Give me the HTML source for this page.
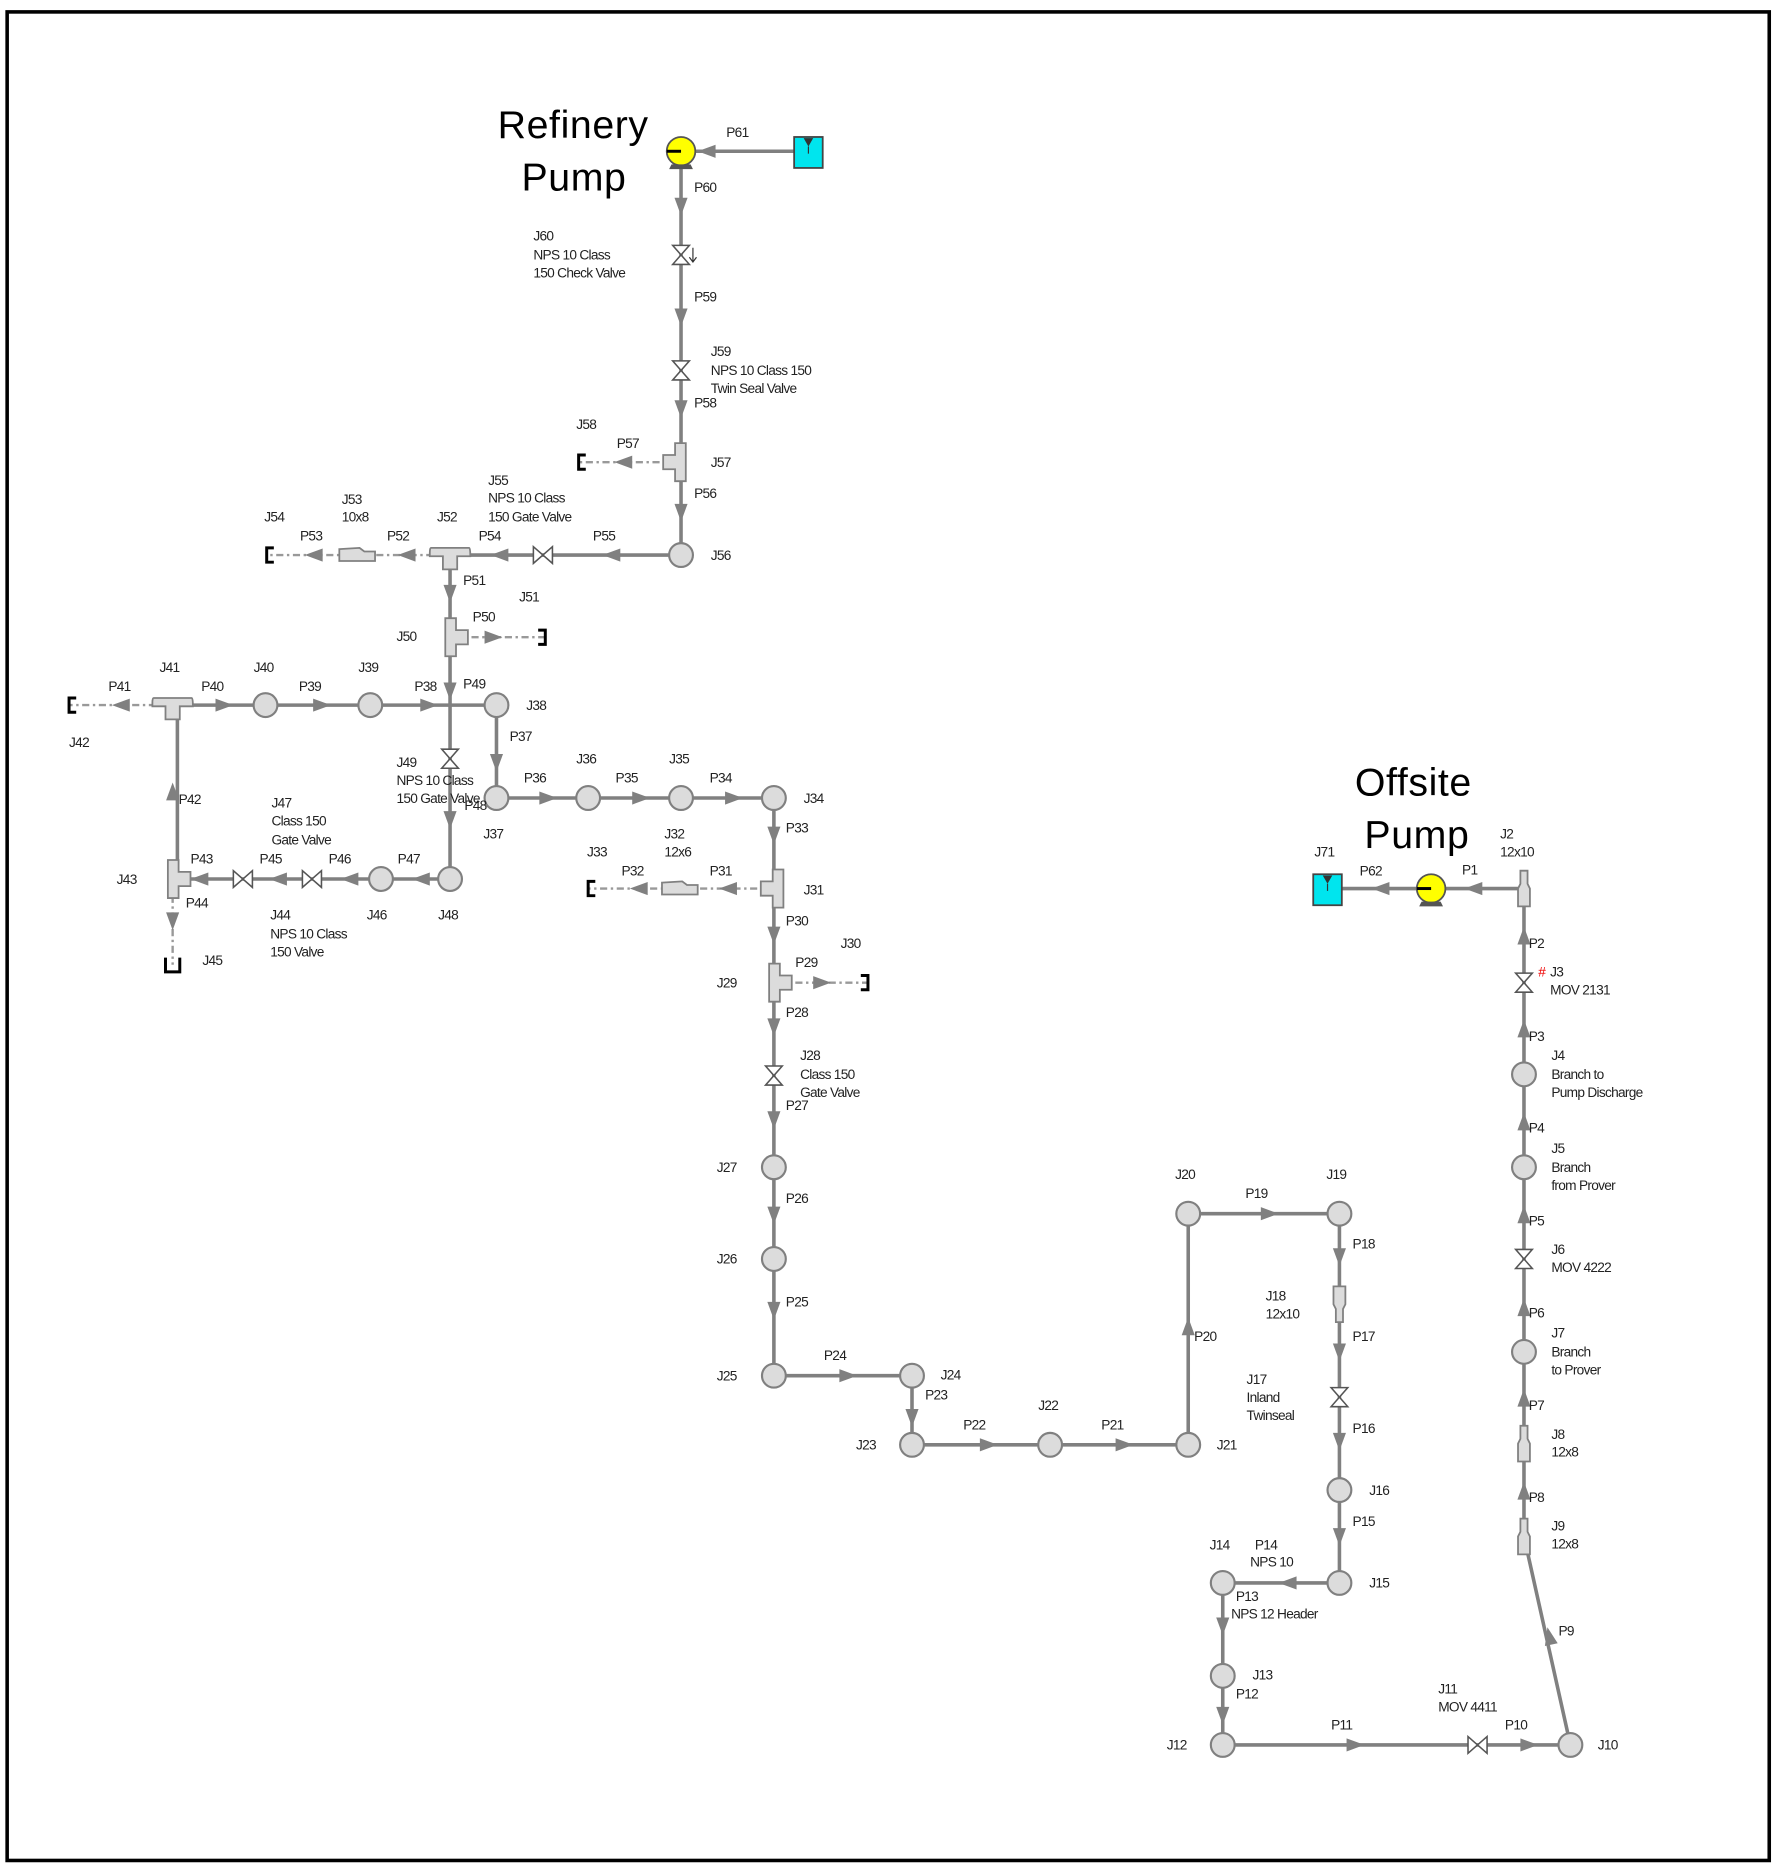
<!DOCTYPE html>
<html><head><meta charset="utf-8"><style>
html,body{margin:0;padding:0;background:#fff}
svg{display:block}
text{font-family:"Liberation Sans",sans-serif;font-size:11.5px;letter-spacing:-0.6px;fill:#222}
.big{font-size:33px;letter-spacing:0.5px;fill:#000}
.p{stroke:#808080;stroke-width:3;fill:none}
.d{stroke:#999;stroke-width:2;fill:none;stroke-dasharray:6 3 2 3}
.j{fill:#dcdcdc;stroke:#808080;stroke-width:1.8}
</style></head><body>
<svg width="1774" height="1870" viewBox="0 0 1490 1570" preserveAspectRatio="none" xmlns="http://www.w3.org/2000/svg">
<defs>
<path id="ar" d="M6,0 L-9,-5.5 L-9,5.5 Z" fill="#808080"/>
<path id="va" d="M-7,-8 L7,-8 L-7,8 L7,8 Z" fill="#fff" stroke="#555" stroke-width="1.3"/>
<path id="vh" d="M-8,-7 L-8,7 L8,-7 L8,7 Z" fill="#fff" stroke="#555" stroke-width="1.3"/>
<path id="teeH" d="M-16,-6 L16,-6 Q17,-6 17,0 L17,1 L6,1 L6,12 L-6,12 L-6,1 L-17,1 L-17,-2 Q-17,-6 -16,-6 Z" fill="#dcdcdc" stroke="#808080" stroke-width="1.5"/>
<path id="teeV" d="M-8,-16 L1,-16 L1,-6 L11,-6 L11,6 L1,6 L1,16 L-8,16 Z" fill="#dcdcdc" stroke="#808080" stroke-width="1.5"/>
<path id="redH" d="M-15,-5 L2,-6 L6,-3 L15,-3 L15,5 L-15,5 Z" fill="#dcdcdc" stroke="#808080" stroke-width="1.5"/>
<path id="redV" d="M-5,-15 L5,-15 L5,0 L3,4 L3,15 L-3,15 L-3,4 L-5,0 Z" fill="#dcdcdc" stroke="#808080" stroke-width="1.5"/>
<g id="pump"><circle r="12" fill="#ffff00" stroke="#555" stroke-width="1.5"/><path d="M-8,11 L8,11 L10,15 L-10,15 Z" fill="#555"/><path d="M0,0 L-12,0" stroke="#000" stroke-width="2.5"/></g>
<g id="tank"><rect x="-12" y="-12" width="24" height="26" fill="#00e5ee" stroke="#444" stroke-width="1.5"/><path d="M-4,-11 L4,-11 L0,-4 Z" fill="#333"/><path d="M0,-4 L0,2" stroke="#333"/></g>
<path id="deadL" d="M6,-6 L0,-6 L0,6 L6,6" stroke="#000" stroke-width="2.5" fill="none"/>
</defs>
<rect x="6" y="10" width="1480" height="1552" fill="none" stroke="#000" stroke-width="3"/>

<path class="p" d="M679,127 H572 V466 H378 V738 H149 V592 H417 V670 H650 V1155 H766 V1213 H998 V1019 H1125 V1329 H1027 V1465 H1319 L1280,1290 V746 H1115"/>
<path class="d" d="M568,388 H486 M378,466 H224 M382,535 H458 M145,592 H58 M650,746 H494 M654,825 H729 M145,738 V810"/>

<use href="#ar" transform="translate(592,127) rotate(180)"/>
<use href="#ar" transform="translate(572,175) rotate(90)"/>
<use href="#ar" transform="translate(572,268) rotate(90)"/>
<use href="#ar" transform="translate(572,345) rotate(90)"/>
<use href="#ar" transform="translate(572,432) rotate(90)"/>
<use href="#ar" transform="translate(512,466) rotate(180)"/>
<use href="#ar" transform="translate(418,466) rotate(180)"/>
<use href="#ar" transform="translate(340,466) rotate(180)"/>
<use href="#ar" transform="translate(262,466) rotate(180)"/>
<use href="#ar" transform="translate(522,388) rotate(180)"/>
<use href="#ar" transform="translate(378,500) rotate(90)"/>
<use href="#ar" transform="translate(416,535)"/>
<use href="#ar" transform="translate(378,582) rotate(90)"/>
<use href="#ar" transform="translate(378,690) rotate(90)"/>
<use href="#ar" transform="translate(362,592)"/>
<use href="#ar" transform="translate(272,592)"/>
<use href="#ar" transform="translate(190,592)"/>
<use href="#ar" transform="translate(100,592) rotate(180)"/>
<use href="#ar" transform="translate(417,642) rotate(90)"/>
<use href="#ar" transform="translate(462,670)"/>
<use href="#ar" transform="translate(540,670)"/>
<use href="#ar" transform="translate(618,670)"/>
<use href="#ar" transform="translate(650,703) rotate(90)"/>
<use href="#ar" transform="translate(610,746) rotate(180)"/>
<use href="#ar" transform="translate(535,746) rotate(180)"/>
<use href="#ar" transform="translate(650,787) rotate(90)"/>
<use href="#ar" transform="translate(692,825)"/>
<use href="#ar" transform="translate(650,864) rotate(90)"/>
<use href="#ar" transform="translate(650,942) rotate(90)"/>
<use href="#ar" transform="translate(650,1022) rotate(90)"/>
<use href="#ar" transform="translate(650,1102) rotate(90)"/>
<use href="#ar" transform="translate(714,1155)"/>
<use href="#ar" transform="translate(766,1192) rotate(90)"/>
<use href="#ar" transform="translate(832,1213)"/>
<use href="#ar" transform="translate(946,1213)"/>
<use href="#ar" transform="translate(998,1112) rotate(270)"/>
<use href="#ar" transform="translate(1068,1019)"/>
<use href="#ar" transform="translate(1125,1057) rotate(90)"/>
<use href="#ar" transform="translate(1125,1137) rotate(90)"/>
<use href="#ar" transform="translate(1125,1212) rotate(90)"/>
<use href="#ar" transform="translate(1125,1292) rotate(90)"/>
<use href="#ar" transform="translate(1080,1329) rotate(180)"/>
<use href="#ar" transform="translate(1027,1367) rotate(90)"/>
<use href="#ar" transform="translate(1027,1442) rotate(90)"/>
<use href="#ar" transform="translate(1140,1465)"/>
<use href="#ar" transform="translate(1286,1465)"/>
<use href="#ar" transform="translate(1301,1372) rotate(257.4)"/>
<use href="#ar" transform="translate(1280,1250) rotate(270)"/>
<use href="#ar" transform="translate(1280,1172) rotate(270)"/>
<use href="#ar" transform="translate(1280,1096) rotate(270)"/>
<use href="#ar" transform="translate(1280,1018) rotate(270)"/>
<use href="#ar" transform="translate(1280,940) rotate(270)"/>
<use href="#ar" transform="translate(1280,862) rotate(270)"/>
<use href="#ar" transform="translate(1280,784) rotate(270)"/>
<use href="#ar" transform="translate(1236,746) rotate(180)"/>
<use href="#ar" transform="translate(1158,746) rotate(180)"/>
<use href="#ar" transform="translate(145,663) rotate(270)"/>
<use href="#ar" transform="translate(166,738) rotate(180)"/>
<use href="#ar" transform="translate(145,775) rotate(90)"/>
<use href="#ar" transform="translate(232,738) rotate(180)"/>
<use href="#ar" transform="translate(292,738) rotate(180)"/>
<use href="#ar" transform="translate(352,738) rotate(180)"/>

<g class="j">
<circle cx="572" cy="466" r="10"/><circle cx="223" cy="592" r="10"/><circle cx="311" cy="592" r="10"/>
<circle cx="417" cy="592" r="10"/><circle cx="417" cy="670" r="10"/><circle cx="494" cy="670" r="10"/>
<circle cx="572" cy="670" r="10"/><circle cx="650" cy="670" r="10"/><circle cx="378" cy="738" r="10"/>
<circle cx="320" cy="738" r="10"/><circle cx="650" cy="980" r="10"/><circle cx="650" cy="1057" r="10"/>
<circle cx="650" cy="1155" r="10"/><circle cx="766" cy="1155" r="10"/><circle cx="766" cy="1213" r="10"/>
<circle cx="882" cy="1213" r="10"/><circle cx="998" cy="1213" r="10"/><circle cx="998" cy="1019" r="10"/>
<circle cx="1125" cy="1019" r="10"/><circle cx="1125" cy="1251" r="10"/><circle cx="1125" cy="1329" r="10"/>
<circle cx="1027" cy="1329" r="10"/><circle cx="1027" cy="1407" r="10"/><circle cx="1027" cy="1465" r="10"/>
<circle cx="1319" cy="1465" r="10"/><circle cx="1280" cy="902" r="10"/><circle cx="1280" cy="980" r="10"/>
<circle cx="1280" cy="1135" r="10"/>
</g>
<use href="#teeV" transform="translate(568,388) scale(-1,1)"/>
<use href="#teeH" transform="translate(378,466)"/>
<use href="#teeV" transform="translate(382,535)"/>
<use href="#teeH" transform="translate(145,592)"/>
<use href="#teeV" transform="translate(149,738)"/>
<use href="#teeV" transform="translate(650,746) scale(-1,1)"/>
<use href="#teeV" transform="translate(654,825)"/>
<use href="#redH" transform="translate(300,466)"/>
<use href="#redH" transform="translate(571,746)"/>
<use href="#redV" transform="translate(1125,1095)"/>
<use href="#redV" transform="translate(1280,746) scale(1,-1)"/>
<use href="#redV" transform="translate(1280,1212) scale(1,-1)"/>
<use href="#redV" transform="translate(1280,1290) scale(1,-1)"/>
<use href="#va" transform="translate(572,214)"/><path d="M582,208 V220 M579,216 L582,220 L585,216" stroke="#333" fill="none"/>
<use href="#va" transform="translate(572,311)"/>
<use href="#vh" transform="translate(456,466)"/>
<use href="#va" transform="translate(378,637)"/>
<use href="#vh" transform="translate(204,738)"/>
<use href="#vh" transform="translate(262,738)"/>
<use href="#va" transform="translate(650,903)"/>
<use href="#va" transform="translate(1125,1173)"/>
<use href="#vh" transform="translate(1241,1465)"/>
<use href="#va" transform="translate(1280,1057)"/>
<use href="#va" transform="translate(1280,825)"/>
<use href="#deadL" transform="translate(486,388)"/>
<use href="#deadL" transform="translate(224,466)"/>
<use href="#deadL" transform="translate(458,535) scale(-1,1)"/>
<use href="#deadL" transform="translate(58,592)"/>
<use href="#deadL" transform="translate(494,746)"/>
<use href="#deadL" transform="translate(729,825) scale(-1,1)"/>
<path d="M139,804 V816 H151 V804" stroke="#000" stroke-width="2.5" fill="none"/>
<use href="#pump" transform="translate(572,127)"/>
<use href="#tank" transform="translate(679,127)"/>
<use href="#pump" transform="translate(1202,746)"/>
<use href="#tank" transform="translate(1115,746)"/>

<text class="big" x="418" y="116">Refinery</text>
<text class="big" x="438" y="160">Pump</text>
<text class="big" x="1138" y="668">Offsite</text>
<text class="big" x="1146" y="712">Pump</text>

<text x="610" y="115">P61</text>
<text x="583" y="161">P60</text>
<text x="448" y="202">J60</text><text x="448" y="218">NPS 10 Class</text><text x="448" y="233">150 Check Valve</text>
<text x="583" y="253">P59</text>
<text x="597" y="299">J59</text><text x="597" y="315">NPS 10 Class 150</text><text x="597" y="330">Twin Seal Valve</text>
<text x="583" y="342">P58</text>
<text x="484" y="360">J58</text><text x="518" y="376">P57</text><text x="597" y="392">J57</text>
<text x="583" y="418">P56</text>
<text x="410" y="407">J55</text><text x="410" y="422">NPS 10 Class</text><text x="410" y="438">150 Gate Valve</text>
<text x="287" y="423">J53</text><text x="287" y="438">10x8</text>
<text x="222" y="438">J54</text><text x="252" y="454">P53</text><text x="325" y="454">P52</text>
<text x="367" y="438">J52</text><text x="402" y="454">P54</text><text x="498" y="454">P55</text>
<text x="597" y="470">J56</text>
<text x="389" y="491">P51</text><text x="436" y="505">J51</text><text x="397" y="522">P50</text>
<text x="333" y="538">J50</text>
<text x="134" y="564">J41</text><text x="213" y="564">J40</text><text x="301" y="564">J39</text>
<text x="91" y="580">P41</text><text x="169" y="580">P40</text><text x="251" y="580">P39</text>
<text x="348" y="580">P38</text><text x="389" y="578">P49</text><text x="442" y="596">J38</text>
<text x="58" y="627">J42</text>
<text x="428" y="622">P37</text>
<text x="333" y="644">J49</text><text x="333" y="659">NPS 10 Class</text><text x="333" y="674">150 Gate Valve</text>
<text x="390" y="680">P48</text>
<text x="484" y="641">J36</text><text x="562" y="641">J35</text>
<text x="440" y="657">P36</text><text x="517" y="657">P35</text><text x="596" y="657">P34</text>
<text x="675" y="674">J34</text>
<text x="406" y="704">J37</text>
<text x="150" y="675">P42</text>
<text x="228" y="678">J47</text><text x="228" y="693">Class 150</text><text x="228" y="709">Gate Valve</text>
<text x="660" y="699">P33</text>
<text x="558" y="704">J32</text><text x="558" y="719">12x6</text>
<text x="493" y="719">J33</text><text x="522" y="735">P32</text><text x="596" y="735">P31</text>
<text x="160" y="725">P43</text><text x="218" y="725">P45</text><text x="276" y="725">P46</text><text x="334" y="725">P47</text>
<text x="98" y="742">J43</text><text x="675" y="751">J31</text>
<text x="156" y="762">P44</text>
<text x="227" y="772">J44</text><text x="227" y="788">NPS 10 Class</text><text x="227" y="803">150 Valve</text>
<text x="308" y="772">J46</text><text x="368" y="772">J48</text>
<text x="660" y="777">P30</text>
<text x="170" y="810">J45</text>
<text x="706" y="796">J30</text><text x="668" y="812">P29</text>
<text x="602" y="829">J29</text>
<text x="660" y="854">P28</text>
<text x="672" y="890">J28</text><text x="672" y="906">Class 150</text><text x="672" y="921">Gate Valve</text>
<text x="660" y="932">P27</text>
<text x="602" y="984">J27</text><text x="660" y="1010">P26</text>
<text x="602" y="1061">J26</text><text x="660" y="1097">P25</text>
<text x="602" y="1159">J25</text><text x="692" y="1142">P24</text>
<text x="790" y="1158">J24</text><text x="777" y="1175">P23</text>
<text x="719" y="1217">J23</text><text x="809" y="1200">P22</text><text x="872" y="1184">J22</text>
<text x="925" y="1200">P21</text><text x="1022" y="1217">J21</text>
<text x="1003" y="1126">P20</text>
<text x="987" y="990">J20</text><text x="1046" y="1006">P19</text><text x="1114" y="990">J19</text>
<text x="1136" y="1048">P18</text>
<text x="1063" y="1092">J18</text><text x="1063" y="1107">12x10</text>
<text x="1136" y="1126">P17</text>
<text x="1047" y="1162">J17</text><text x="1047" y="1177">Inland</text><text x="1047" y="1192">Twinseal</text>
<text x="1136" y="1203">P16</text>
<text x="1150" y="1255">J16</text><text x="1136" y="1281">P15</text>
<text x="1016" y="1301">J14</text><text x="1054" y="1301">P14</text><text x="1050" y="1315">NPS 10</text>
<text x="1150" y="1333">J15</text>
<text x="1038" y="1344">P13</text><text x="1034" y="1359">NPS 12 Header</text>
<text x="1052" y="1410">J13</text><text x="1038" y="1426">P12</text>
<text x="980" y="1469">J12</text><text x="1118" y="1452">P11</text>
<text x="1208" y="1422">J11</text><text x="1208" y="1437">MOV 4411</text>
<text x="1264" y="1452">P10</text><text x="1342" y="1469">J10</text>
<text x="1309" y="1373">P9</text>
<text x="1303" y="1285">J9</text><text x="1303" y="1300">12x8</text>
<text x="1284" y="1261">P8</text>
<text x="1303" y="1208">J8</text><text x="1303" y="1223">12x8</text>
<text x="1284" y="1184">P7</text>
<text x="1303" y="1123">J7</text><text x="1303" y="1139">Branch</text><text x="1303" y="1154">to Prover</text>
<text x="1284" y="1106">P6</text>
<text x="1303" y="1053">J6</text><text x="1303" y="1068">MOV 4222</text>
<text x="1284" y="1029">P5</text>
<text x="1303" y="968">J5</text><text x="1303" y="984">Branch</text><text x="1303" y="999">from Prover</text>
<text x="1284" y="951">P4</text>
<text x="1303" y="890">J4</text><text x="1303" y="906">Branch to</text><text x="1303" y="921">Pump Discharge</text>
<text x="1284" y="874">P3</text>
<text x="1292" y="820" style="fill:#e00">#</text><text x="1302" y="820">J3</text><text x="1302" y="835">MOV 2131</text>
<text x="1284" y="796">P2</text>
<text x="1260" y="704">J2</text><text x="1260" y="719">12x10</text>
<text x="1228" y="734">P1</text><text x="1142" y="735">P62</text><text x="1104" y="719">J71</text>
</svg>
</body></html>
